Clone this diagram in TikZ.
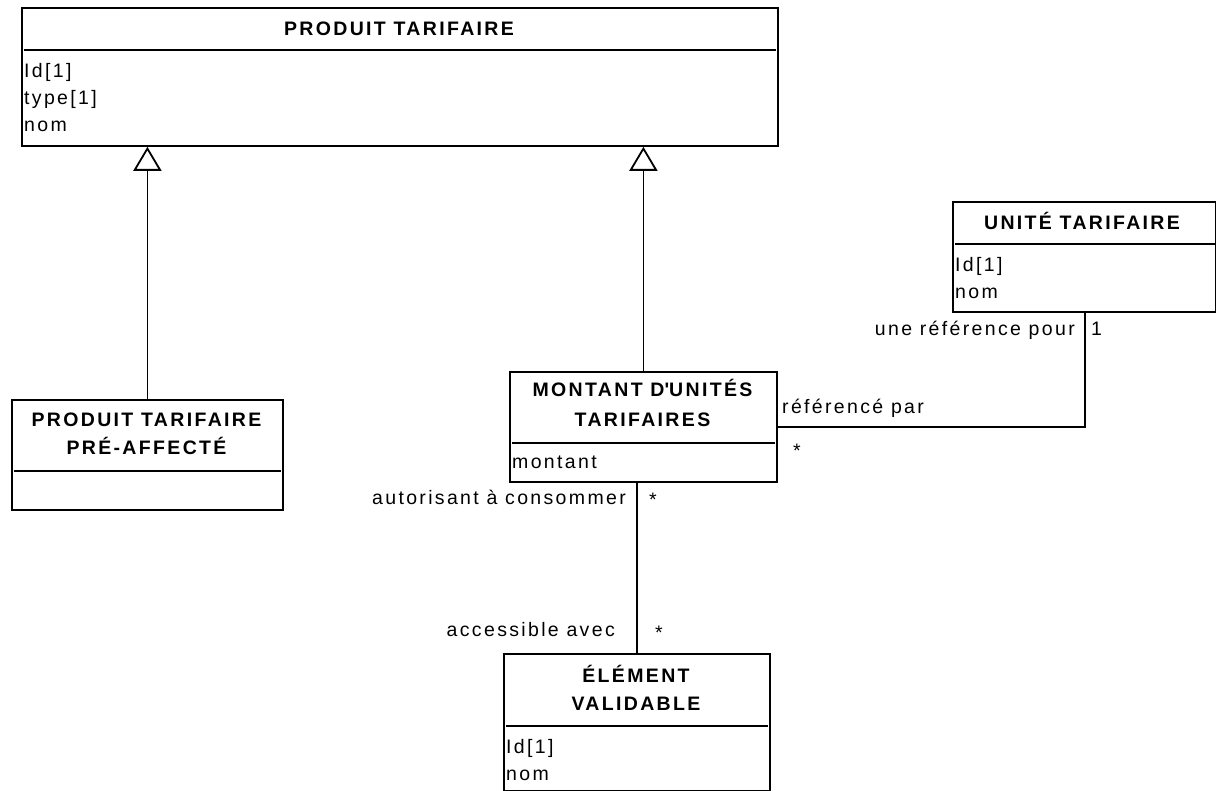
\documentclass[tikz,border=0pt]{standalone}
\usepackage{fontspec}
\setmainfont{Liberation Sans}[LetterSpace=12]
\usetikzlibrary{arrows.meta}
\begin{document}
\begin{tikzpicture}[x=1pt,y=-1pt,
  ln/.style={line width=1.8pt, black},
  box/.style={draw, line width=1.8pt, inner sep=0pt, anchor=north west},
  ttl/.style={anchor=base, font=\fontsize{19.5}{24}\selectfont\bfseries, inner sep=0pt},
  attr/.style={anchor=base west, font=\fontsize{19.5}{24}\selectfont, inner sep=0pt},
  lblr/.style={anchor=base east, font=\fontsize{19.5}{24}\selectfont, inner sep=0pt},
  lbll/.style={anchor=base west, font=\fontsize{19.5}{24}\selectfont, inner sep=0pt},
  gen/.style={ln, -{Triangle[open, length=24pt, width=28pt, line width=1.8pt]}}
]
\useasboundingbox[fill=white] (0,0) rectangle (1216,791);

% boxes
\node[box, minimum width=756pt, minimum height=138pt] (pt) at (21,7) {};
\node[box, minimum width=271pt, minimum height=110pt] (pa) at (11,399) {};
\node[box, minimum width=267pt, minimum height=110pt] (mu) at (509,371) {};
\node[box, minimum width=263pt, minimum height=110pt] (ut) at (952,201) {};
\node[box, minimum width=266pt, minimum height=137pt] (ev) at (503,653) {};

% separators
\draw[ln] ([xshift=3pt,yshift=-43pt]pt.north west) -- ([xshift=-3pt,yshift=-43pt]pt.north east);
\draw[ln] ([xshift=3pt,yshift=-72pt]pa.north west) -- ([xshift=-3pt,yshift=-72pt]pa.north east);
\draw[ln] ([xshift=3pt,yshift=-72pt]mu.north west) -- ([xshift=-3pt,yshift=-72pt]mu.north east);
\draw[ln] ([xshift=3pt,yshift=-43pt]ut.north west) -- ([xshift=-1pt,yshift=-43pt]ut.north east);
\draw[ln] ([xshift=3pt,yshift=-73pt]ev.north west) -- ([xshift=-3pt,yshift=-73pt]ev.north east);

% titles
\node[ttl] (t1) at (399,36) {PRODUIT TARIFAIRE};
\node[ttl] (t2) at (146.5,427) {PRODUIT TARIFAIRE};
\node[ttl] (t3) at (146.5,455) {PRÉ-AFFECTÉ};
\node[ttl] (t4) at (642.5,397) {MONTANT D\textquotesingle UNITÉS};
\node[ttl] (t5) at (642.5,427) {TARIFAIRES};
\node[ttl] (t6) at (1082,230) {UNITÉ TARIFAIRE};
\node[ttl] (t7) at (636,682) {ÉLÉMENT};
\node[ttl] (t8) at (636,710) {VALIDABLE};

% attributes
\node[attr] (a1) at (24,78) {Id[1]};
\node[attr] (a2) at (24,105) {type[1]};
\node[attr] (a3) at (24,132) {nom};
\node[attr] (a4) at (512,468) {montant};
\node[attr] (a5) at (955,272) {Id[1]};
\node[attr] (a6) at (955,299) {nom};
\node[attr] (a7) at (506,753) {Id[1]};
\node[attr] (a8) at (506,780) {nom};

% generalizations
\draw[gen] (pa.north) -- (pa.north |- pt.south);
\draw[gen] (mu.north) -- (mu.north |- pt.south);

% associations
\coordinate (j1) at (1085,427);
\draw[ln] (mu.east |- j1) -- (j1) -- (j1 |- ut.south);
\coordinate (j2) at (637,0);
\draw[ln] (j2 |- mu.south) -- (j2 |- ev.north);

% association labels
\node[lblr] (l1) at (1075,336) {une référence pour};
\node[lbll] (l2) at (1091,336) {1};
\node[lbll] (l3) at (782,414) {référencé par};
\node[lbll] (l4) at (793,457) {*};
\node[lblr] (l5) at (626,504) {autorisant à consommer};
\node[lbll] (l6) at (649,507) {*};
\node[lblr] (l7) at (615,636) {accessible avec};
\node[lbll] (l8) at (655,639) {*};
\end{tikzpicture}
\end{document}
